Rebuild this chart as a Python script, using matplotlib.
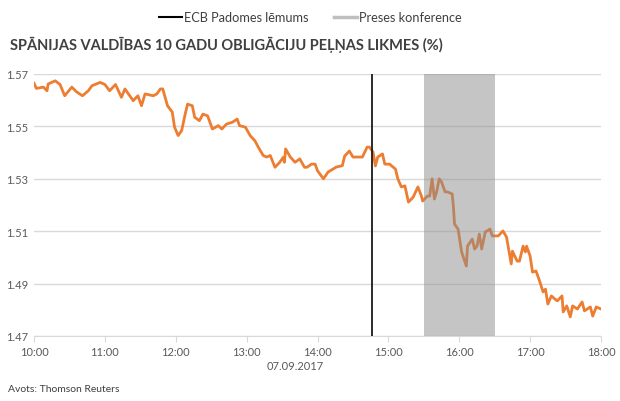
import matplotlib
matplotlib.use("Agg")
import matplotlib.pyplot as plt
from matplotlib.lines import Line2D

plt.rcParams['font.family'] = ['Lato', 'DejaVu Sans']

# minutes after 10:00 and yield values (%)
minutes = [0, 2, 8, 11, 12, 18, 22, 26, 32, 36, 41, 46, 49, 56, 60, 64, 69, 74, 77, 84,
           88, 91, 94, 101, 104, 107, 109, 111, 113, 117, 119, 122, 125, 128, 130, 134,
           136, 140, 143, 147, 151, 156, 159, 163, 168, 172, 174, 179, 183, 187, 190, 194,
           197, 200, 204, 208, 211, 212, 213, 217, 221, 225, 229, 231, 235, 238, 240, 245,
           249, 256, 261, 263, 267, 270, 274, 278, 282, 284, 287, 289, 291, 295, 297, 301,
           306, 308, 311, 314, 317, 321, 325, 328, 329, 333, 335, 337, 339, 341, 343, 345,
           348, 350, 354, 355, 356, 359, 362, 366, 367, 371, 373, 375, 377, 379, 382, 386,
           388, 393, 397, 400, 404, 405, 409, 411, 414, 416, 417, 420, 422, 425, 428, 431,
           433, 435, 438, 441, 443, 447, 448, 451, 454, 456, 460, 464, 466, 471, 473, 476, 480]
yields = [1.5665, 1.5645, 1.5650, 1.5636, 1.5662, 1.5674, 1.5660, 1.5617, 1.5650, 1.5632,
          1.5617, 1.5636, 1.5655, 1.5668, 1.5660, 1.5636, 1.5660, 1.5611, 1.5643, 1.5598,
          1.5617, 1.5579, 1.5624, 1.5617, 1.5624, 1.5643, 1.5643, 1.5611, 1.5579, 1.5555,
          1.5497, 1.5465, 1.5484, 1.5547, 1.5585, 1.5579, 1.5535, 1.5522, 1.5547, 1.5540,
          1.5490, 1.5503, 1.5490, 1.5509, 1.5516, 1.5528, 1.5503, 1.5497, 1.5465, 1.5445,
          1.5420, 1.5389, 1.5383, 1.5389, 1.5344, 1.5363, 1.5382, 1.5363, 1.5414, 1.5383,
          1.5363, 1.5376, 1.5344, 1.5344, 1.5356, 1.5356, 1.5331, 1.5300, 1.5326, 1.5345,
          1.5350, 1.5387, 1.5406, 1.5383, 1.5383, 1.5383, 1.5421, 1.5421, 1.5402, 1.5349,
          1.5383, 1.5395, 1.5356, 1.5356, 1.5337, 1.5300, 1.5269, 1.5273, 1.5211, 1.5230,
          1.5269, 1.5234, 1.5215, 1.5234, 1.5234, 1.5300, 1.5223, 1.5253, 1.5300, 1.5288,
          1.5250, 1.5250, 1.5242, 1.5196, 1.5127, 1.5108, 1.5021, 1.4967, 1.5043, 1.5070,
          1.5032, 1.5043, 1.5089, 1.5032, 1.5097, 1.5108, 1.5082, 1.5082, 1.5101, 1.5078,
          1.4975, 1.5024, 1.4986, 1.4986, 1.5043, 1.5021, 1.5043, 1.5005, 1.4944, 1.4948,
          1.4910, 1.4868, 1.4879, 1.4822, 1.4853, 1.4841, 1.4834, 1.4853, 1.4792, 1.4815,
          1.4773, 1.4815, 1.4803, 1.4830, 1.4796, 1.4811, 1.4776, 1.4811, 1.4803]

tick_minutes = [0, 60, 120, 180, 240, 300, 360, 420, 480]
tick_labels = ["10:00", "11:00", "12:00", "13:00", "14:00", "15:00", "16:00", "17:00", "18:00"]
y_ticks = [1.47, 1.49, 1.51, 1.53, 1.55, 1.57]

ecb_decision = 286          # ~14:45
press_start, press_end = 330, 390  # 15:30 - 16:30

title = "SPĀNIJAS VALDĪBAS 10 GADU OBLIGĀCIJU PEĻŅAS LIKMES (%)"
legend_labels = ["ECB Padomes lēmums", "Preses konference"]
date_label = "07.09.2017"
source = "Avots: Thomson Reuters"

fig = plt.figure(figsize=(6.2, 4.02), dpi=100)
ax = fig.add_axes([34/620, 1-337/402, (601-34)/620, (337-75)/402])

ax.plot(minutes, yields, color="#ED7D31", lw=2.0, zorder=3, solid_joinstyle='round')
ax.axvline(ecb_decision, color="#1a1a1a", lw=1.3, zorder=4)
ax.axvspan(press_start, press_end, color="#8c8c8c", alpha=0.5, lw=0, zorder=5)

ax.set_xlim(0, 480)
ax.set_ylim(1.47, 1.57)
ax.set_yticks(y_ticks)
ax.set_yticklabels([f"{v:.2f}" for v in y_ticks])
ax.set_xticks(tick_minutes)
ax.set_xticklabels(tick_labels)
ax.grid(axis='y', color="#D9D9D9", lw=1.0, zorder=0)
ax.set_axisbelow(True)
for s in ["top", "right", "left"]:
    ax.spines[s].set_visible(False)
ax.spines["bottom"].set_color("#D9D9D9")
ax.tick_params(axis='y', length=0, labelsize=8, labelcolor="#595959", pad=4)
ax.tick_params(axis='x', length=4, color="#D9D9D9", labelsize=8, labelcolor="#595959", pad=3)

fig.text(295/620, 1-367/402, date_label, ha='center', va='center', fontsize=8, color="#595959")
fig.text(8/620, 1-390/402, source, ha='left', va='center', fontsize=7.5, color="#404040")
fig.text(10/620, 1-45/402, title, ha='left', va='center', fontsize=10.5, fontweight='bold', color="#404040")

handles = [Line2D([0], [0], color="#000000", lw=1.5),
           Line2D([0], [0], color="#BFBFBF", lw=2.5)]
fig.legend(handles, legend_labels, loc='center', bbox_to_anchor=(0.5, 1-18/402), ncol=2,
           frameon=False, fontsize=9.2, handlelength=1.8, handletextpad=0.15, columnspacing=2.0,
           labelcolor="#404040")

fig.savefig("out.png", dpi=100)
